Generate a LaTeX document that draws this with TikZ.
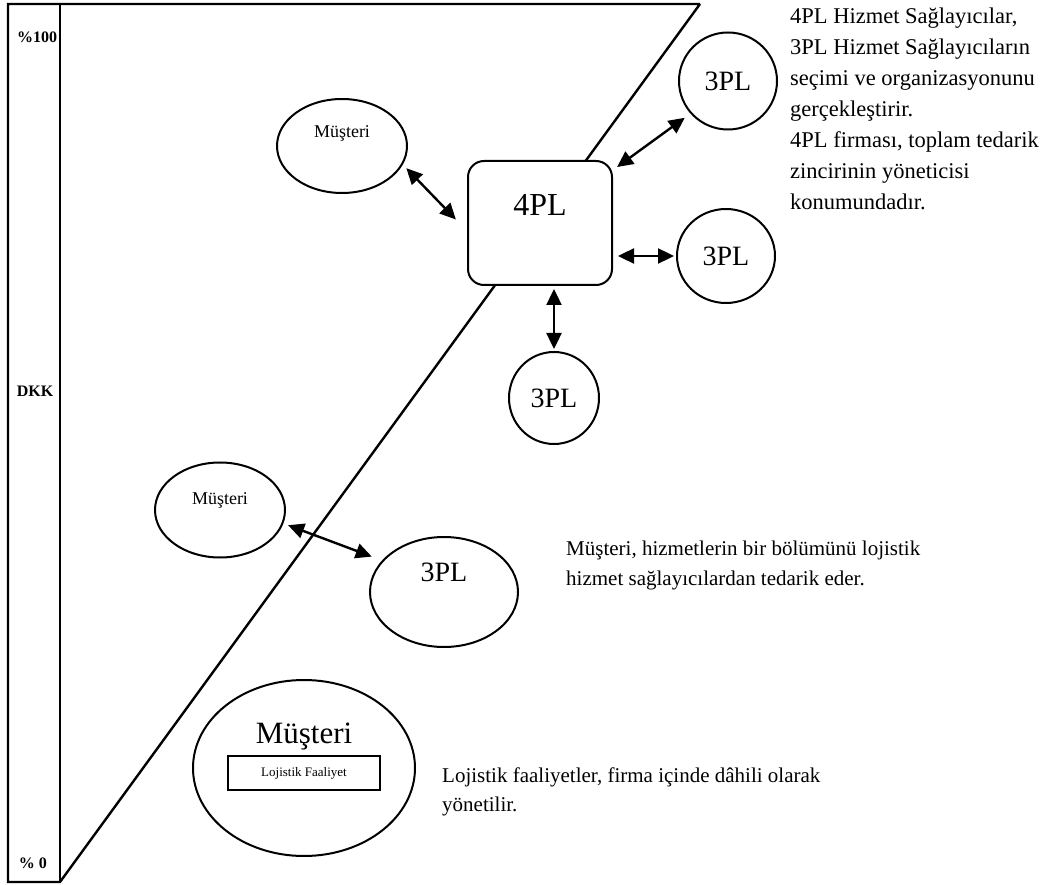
\documentclass[tikz,border=0pt]{standalone}
\usepackage{fontspec}
\setmainfont{Liberation Serif}
\usepackage{tikz}
\usetikzlibrary{shapes.geometric, arrows.meta, positioning, calc}

\begin{document}
\begin{tikzpicture}[
    x=1pt, y=-1pt,
    oval/.style={ellipse, draw, fill=white, line width=2pt, inner sep=0pt},
    plbox/.style={rectangle, rounded corners=16pt, draw, fill=white, line width=2pt},
    actbox/.style={rectangle, draw, line width=2pt, inner sep=0pt,
                   font=\fontsize{13}{13}\selectfont},
    dbl/.style={{Triangle[length=16pt, width=15pt]}-{Triangle[length=16pt, width=15pt]},
                line width=2.4pt},
    frame/.style={line width=2.4pt, line join=miter},
    side/.style={font=\fontsize{16}{16}\selectfont\bfseries, inner sep=0pt},
    note/.style={align=left, anchor=north west, inner sep=0pt}
]
\useasboundingbox (0,0) rectangle (1045,885);

% frame and diagonal
\draw[frame] (700,4) -- (8,4) -- (8,882) -- (60,882) -- (700,4);
\draw[frame] (60,4) -- (60,882);

\node[side] (p100) at (37,37)  {\%100};
\node[side] (dkk)  at (35,391) {DKK};
\node[side] (p0)   at (33,863) {\% 0};

% nodes
\node[oval, minimum width=130pt, minimum height=94pt] (mus1) at (342,146) {};
\node[font=\fontsize{18}{18}\selectfont] (mus1t) at ([yshift=13pt]mus1.center) {Müşteri};

\node[plbox, minimum width=144pt, minimum height=124pt] (pl4) at (540,223) {};
\node[font=\fontsize{32}{32}\selectfont] (pl4t) at ([yshift=18pt]pl4.center) {4PL};

\node[oval, minimum width=98pt, minimum height=97pt, font=\fontsize{28}{28}\selectfont]
    (pl3a) at (728,81) {3PL};
\node[oval, minimum width=98pt, minimum height=94pt, font=\fontsize{28}{28}\selectfont]
    (pl3b) at (726,256) {3PL};
\node[oval, minimum width=90pt, minimum height=92pt, font=\fontsize{28}{28}\selectfont]
    (pl3c) at (554,398) {3PL};

\node[oval, minimum width=130pt, minimum height=95pt] (mus2) at (220,510) {};
\node[font=\fontsize{18}{18}\selectfont] (mus2t) at ([yshift=10pt]mus2.center) {Müşteri};

\node[oval, minimum width=148pt, minimum height=110pt] (pl3d) at (444,592) {};
\node[font=\fontsize{28}{28}\selectfont] (pl3dt) at ([yshift=20pt]pl3d.center) {3PL};

\node[oval, minimum width=222pt, minimum height=176pt] (mus3) at (304,768) {};
\node[font=\fontsize{31}{31}\selectfont] (mus3t) at ([yshift=31pt]mus3.center) {Müşteri};
\node[actbox, minimum width=152pt, minimum height=34pt] (act) at (304,773) {Lojistik Faaliyet};

% arrows
\draw[dbl, shorten <=5pt, shorten >=16pt] (mus1.-17) -- ([yshift=-8pt]pl4.west);
\draw[dbl, shorten <=5pt, shorten >=7pt] (pl4.36) -- (pl3a.221);
\draw[dbl, shorten <=5pt, shorten >=2pt] (pl4.east |- pl3b.west) -- (pl3b.west);
\draw[dbl, shorten <=3pt, shorten >=2pt] (pl4.south -| pl3c.north) -- (pl3c.north);
\draw[dbl, shorten <=5pt, shorten >=11pt] (mus2.-12) -- (pl3d.153);

% notes
\node[note, font=\fontsize{22.5}{31}\selectfont] (note4) at (790,8)
    {4PL Hizmet Sağlayıcılar,\\3PL Hizmet Sağlayıcıların\\seçimi ve organizasyonunu\\gerçekleştirir.\\4PL firması, toplam tedarik\\zincirinin yöneticisi\\konumundadır.};
\node[note, font=\fontsize{21}{30}\selectfont] (note3) at (566,541)
    {Müşteri, hizmetlerin bir bölümünü lojistik\\hizmet sağlayıcılardan tedarik eder.};
\node[note, font=\fontsize{21}{29}\selectfont] (note1) at (442,768)
    {Lojistik faaliyetler, firma içinde dâhili olarak\\yönetilir.};

\end{tikzpicture}
\end{document}
